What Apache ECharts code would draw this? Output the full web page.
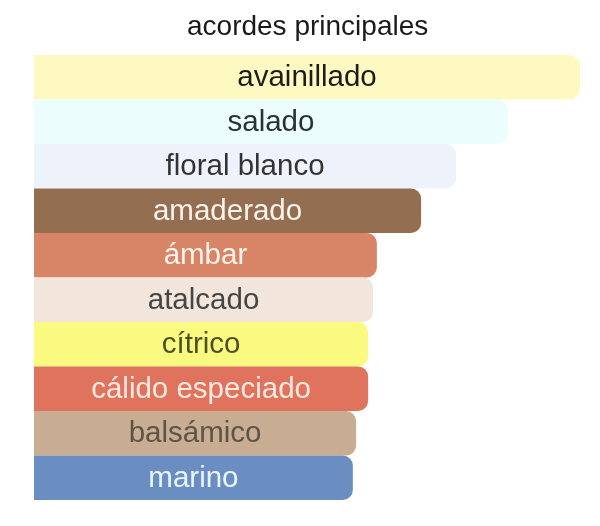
<!DOCTYPE html>
<html>
<head>
<meta charset="utf-8">
<script src="https://cdn.jsdelivr.net/npm/echarts@6/dist/echarts.min.js"></script>
<style>html,body{margin:0;padding:0;background:#fff;}#c{width:600px;height:526px;}</style>
</head>
<body>
<div id="c"></div>
<script>
const categories = ["avainillado","salado","floral blanco","amaderado","ámbar","atalcado","cítrico","cálido especiado","balsámico","marino"];
const values = [100, 86.8, 77.3, 70.9, 62.8, 62.1, 61.2, 61.2, 59.0, 58.4];
const barColors = ["#FDF9C0","#EBFEFD","#EEF2FA","#946E50","#D88466","#F2E6DC","#F9FA7F","#E0735E","#C8AD92","#6A8EC1"];
const textColors = ["#1c1c1c","#2a3333","#333333","#FBF3EC","#FFF3EC","#454545","#4D5226","#FCEAE0","#5E5348","#EAF6FF"];

const chart = echarts.init(document.getElementById('c'));
chart.setOption({
  animation: false,
  title: {
    text: 'acordes principales',
    left: 182, top: 8,
    textStyle: { fontFamily: 'Liberation Sans', fontWeight: 'normal', fontSize: 28, color: '#1a1a1a' }
  },
  grid: { left: 34, right: 20, top: 55, bottom: 26, containLabel: false },
  xAxis: { type: 'value', min: 0, max: 100, show: false },
  yAxis: { type: 'category', data: categories, inverse: true, show: false },
  series: [{
    type: 'bar',
    barCategoryGap: 0,
    data: values.map((v, i) => ({
      value: v,
      itemStyle: { color: barColors[i], borderRadius: [0, 10, 10, 0] },
      label: { color: textColors[i] }
    })),
    label: {
      show: true, position: 'inside', offset: [0, 1],
      formatter: p => categories[p.dataIndex],
      fontFamily: 'Liberation Sans', fontSize: 29.5
    }
  }]
});
</script>
</body>
</html>
